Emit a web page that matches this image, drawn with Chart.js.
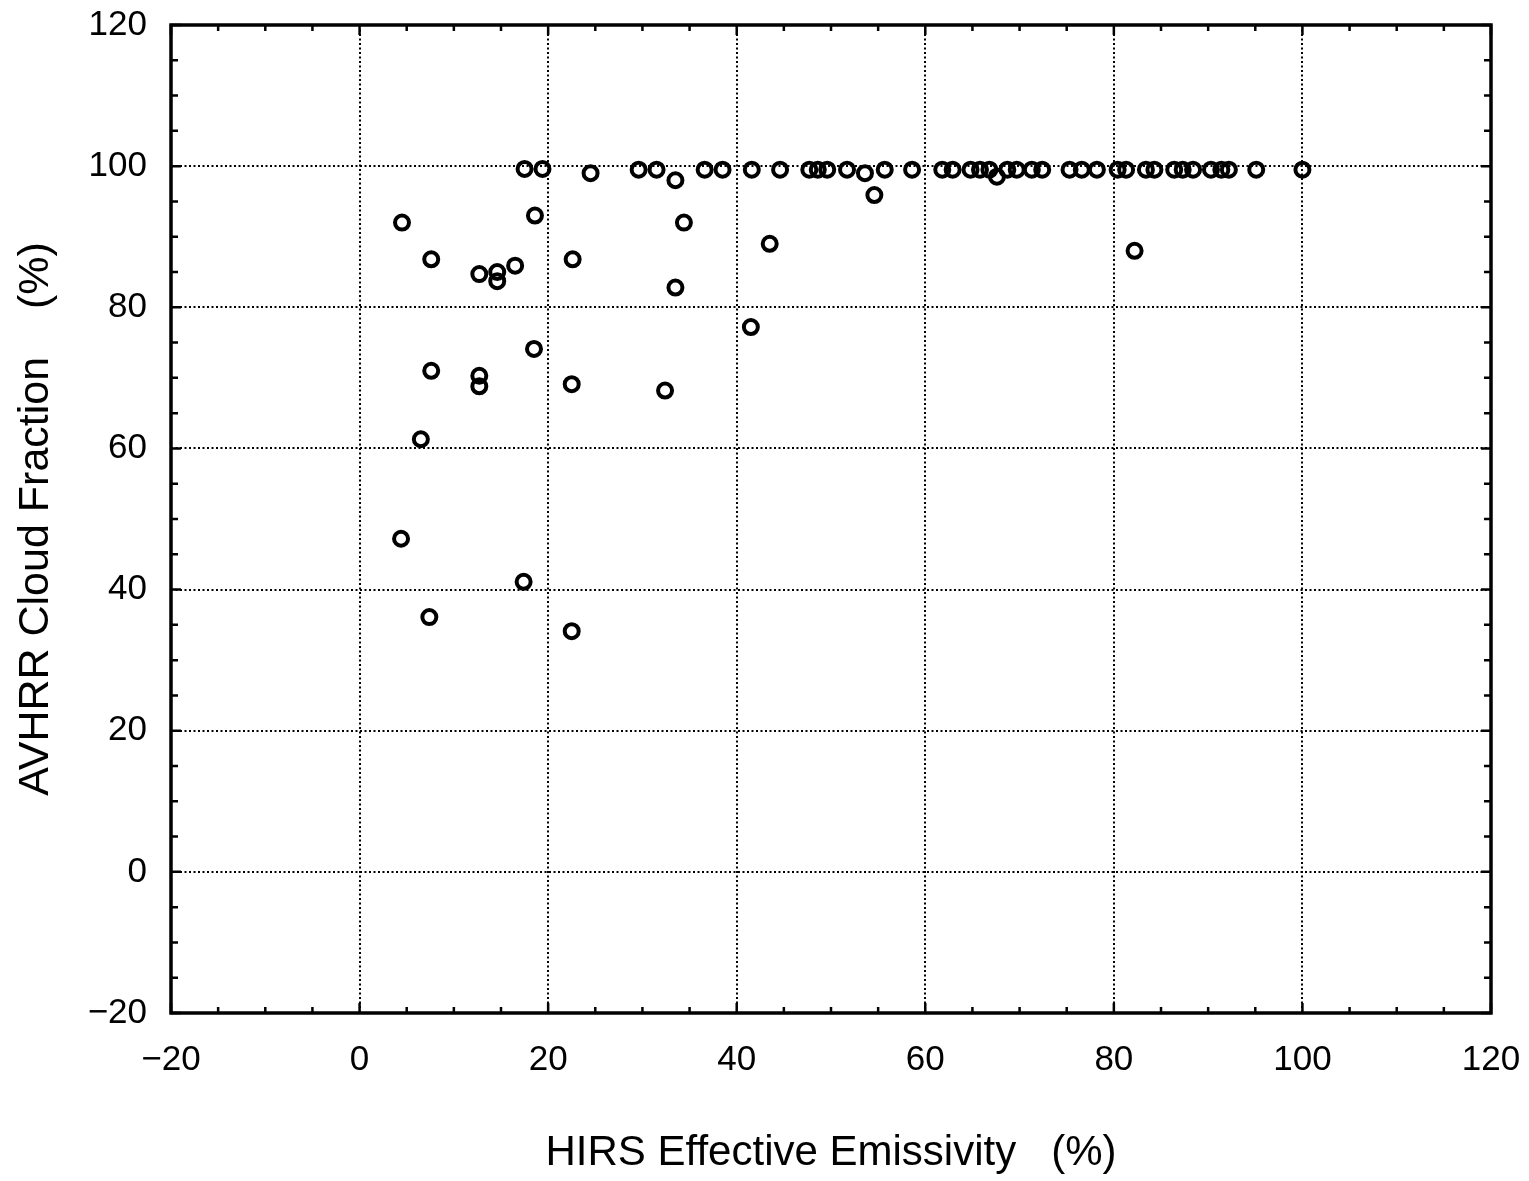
<!DOCTYPE html>
<html>
<head>
<meta charset="utf-8">
<title>AVHRR cloud fraction vs HIRS effective emissivity</title>
<script src="https://cdn.jsdelivr.net/npm/chart.js@4.4.1/dist/chart.umd.min.js"></script>
<style>
  html, body { margin: 0; padding: 0; background: #fff; }
  #wrap { width: 1529px; height: 1181px; position: relative; }
</style>
</head>
<body>
<div id="wrap"><canvas id="scatter"></canvas></div>
<script>
// HIRS effective emissivity (%) -- x of each point
const emissivity = [
  4.5, 7.6, 12.7, 14.6, 14.6, 16.5, 18.6, 22.6, 24.5, 33.5, 34.4, 33.5,
  43.5, 53.6, 54.6, 67.6, 82.2,
  41.5, 18.5, 7.6, 12.7, 12.7, 22.5, 32.4, 6.5,
  4.4, 17.4, 7.4, 22.5,
  17.5, 19.4, 29.6, 31.5, 36.6, 38.5, 41.6, 44.6, 47.7, 48.6, 49.6, 51.7,
  55.7, 58.6, 61.8, 62.9, 64.8, 65.8, 66.8, 68.7, 69.7, 71.3, 72.4, 75.3,
  76.6, 78.2, 80.4, 81.3, 83.4, 84.3, 86.4, 87.3, 88.4, 90.3, 91.4, 92.2,
  95.1, 100.0
];

// AVHRR cloud fraction (%) -- y of each point, same order
const cloudFraction = [
  92.0, 86.8, 84.7, 85.0, 83.7, 85.9, 93.0, 86.8, 99.0, 98.0, 92.0, 82.8,
  89.0, 99.0, 95.9, 98.5, 88.0,
  77.2, 74.1, 71.0, 70.3, 68.8, 69.1, 68.2, 61.3,
  47.2, 41.1, 36.1, 34.1,
  99.6, 99.6, 99.5, 99.5, 99.5, 99.5, 99.5, 99.5, 99.5, 99.5, 99.5, 99.5,
  99.5, 99.5, 99.5, 99.5, 99.5, 99.5, 99.5, 99.5, 99.5, 99.5, 99.5, 99.5,
  99.5, 99.5, 99.5, 99.5, 99.5, 99.5, 99.5, 99.5, 99.5, 99.5, 99.5, 99.5,
  99.5, 99.5
];

// axis ranges and tick labels
const xTicks = [-20, 0, 20, 40, 60, 80, 100, 120];
const yTicks = [-20, 0, 20, 40, 60, 80, 100, 120];
const minorStep = 5;

const points = emissivity.map((x, i) => ({ x: x, y: cloudFraction[i] }));

const fontFamily = '"Liberation Sans", Arial, sans-serif';

const fmt = v => (v < 0 ? '\u2212' + Math.abs(v) : String(v));

// frame box plus inward ticks on all four sides
const frameTicks = {
  id: 'frameTicks',
  afterDatasetsDraw(chart) {
    const { ctx, chartArea: a, scales: { x, y } } = chart;
    ctx.save();
    ctx.strokeStyle = '#000';
    ctx.lineWidth = 2.5;
    ctx.beginPath();
    for (let v = xTicks[0]; v <= xTicks[xTicks.length - 1]; v += minorStep) {
      const px = x.getPixelForValue(v);
      const len = v % 20 === 0 ? 10 : 6;
      ctx.moveTo(px, a.bottom); ctx.lineTo(px, a.bottom - len);
      ctx.moveTo(px, a.top); ctx.lineTo(px, a.top + len);
    }
    for (let v = yTicks[0]; v <= yTicks[yTicks.length - 1]; v += minorStep) {
      const py = y.getPixelForValue(v);
      const len = v % 20 === 0 ? 10 : 7;
      ctx.moveTo(a.left, py); ctx.lineTo(a.left + len, py);
      ctx.moveTo(a.right, py); ctx.lineTo(a.right - len, py);
    }
    ctx.stroke();
    ctx.lineWidth = 3.5;
    ctx.strokeRect(a.left, a.top, a.right - a.left, a.bottom - a.top);
    ctx.restore();
  }
};

new Chart(document.getElementById('scatter'), {
  type: 'scatter',
  data: {
    datasets: [{
      data: points,
      pointStyle: 'circle',
      pointRadius: 7,
      pointBorderWidth: 4,
      pointBorderColor: '#000',
      pointBackgroundColor: 'rgba(0,0,0,0)',
      borderColor: '#000',
      backgroundColor: 'rgba(0,0,0,0)'
    }]
  },
  options: {
    responsive: true,
    maintainAspectRatio: false,
    animation: false,
    layout: { padding: { top: 0, right: 38, bottom: 0, left: 0 } },
    elements: { point: { radius: 7, borderWidth: 4 } },
    plugins: {
      legend: { display: false },
      tooltip: { enabled: false }
    },
    scales: {
      x: {
        type: 'linear',
        min: xTicks[0],
        max: xTicks[xTicks.length - 1],
        afterBuildTicks: s => { s.ticks = xTicks.map(v => ({ value: v })); },
        afterFit: s => { s.height = 168; },
        grid: { color: '#000', lineWidth: 2, drawTicks: true, tickLength: 22, tickColor: 'rgba(0,0,0,0)' },
        border: { display: false, dash: [2, 2.5] },
        ticks: {
          color: '#000',
          padding: 4,
          maxRotation: 0,
          font: { family: fontFamily, size: 35 },
          callback: v => fmt(v)
        },
        title: {
          display: true,
          text: 'HIRS Effective Emissivity   (%)',
          color: '#000',
          font: { family: fontFamily, size: 42 },
          padding: { top: 0, bottom: 2 }
        }
      },
      y: {
        type: 'linear',
        min: yTicks[0],
        max: yTicks[yTicks.length - 1],
        afterBuildTicks: s => { s.ticks = yTicks.map(v => ({ value: v })); },
        afterFit: s => { s.width = 171; },
        grid: { color: '#000', lineWidth: 2, drawTicks: true, tickLength: 20, tickColor: 'rgba(0,0,0,0)' },
        border: { display: false, dash: [2, 2.5] },
        ticks: {
          color: '#000',
          padding: 4,
          font: { family: fontFamily, size: 35 },
          callback: v => fmt(v)
        },
        title: {
          display: true,
          text: 'AVHRR Cloud Fraction    (%)',
          color: '#000',
          font: { family: fontFamily, size: 43 },
          padding: { top: 10, bottom: 0 }
        }
      }
    }
  },
  plugins: [frameTicks]
});
</script>
</body>
</html>
